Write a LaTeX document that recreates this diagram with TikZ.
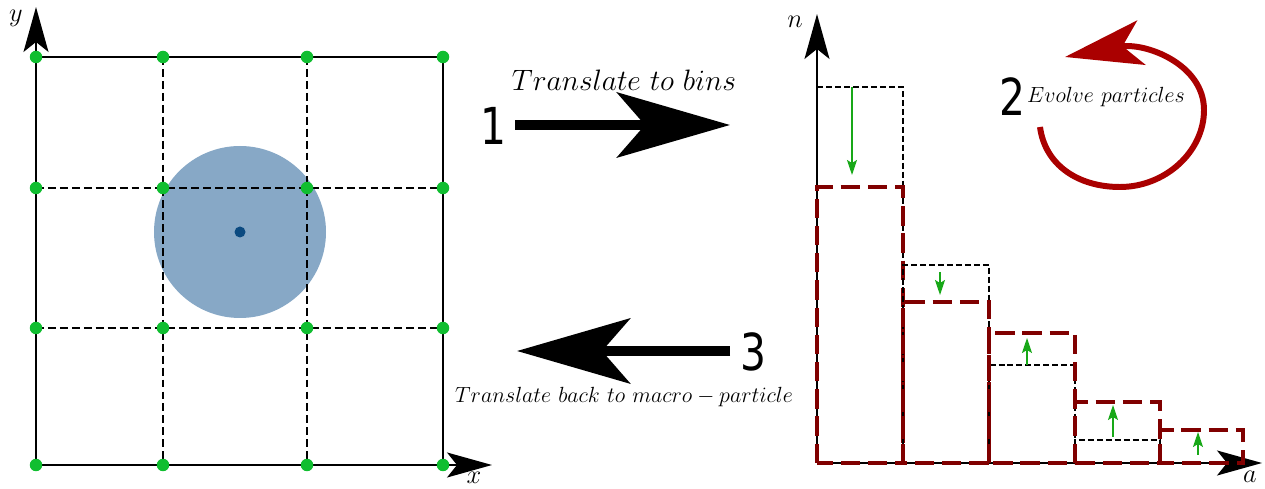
\RequirePackage{fix-cm}
\documentclass[tikz,border=0pt]{standalone}
\usepackage{fontspec}
\newfontfamily\numfont[FakeStretch=0.8]{DejaVu Sans}
\usetikzlibrary{arrows.meta}
\definecolor{gridgreen}{HTML}{10BE30}
\definecolor{blob}{HTML}{87A8C6}
\definecolor{core}{HTML}{0B4A80}
\definecolor{newbin}{HTML}{800000}
\definecolor{loopred}{HTML}{AA0000}
\definecolor{shift}{HTML}{18A818}
\tikzset{
  ax/.style={draw=black,line width=1pt,-{Stealth[length=0.9cm,width=0.5cm,inset=0.2cm]}},
  frame/.style={draw=black,line width=1pt},
  cell/.style={draw=black,line width=0.9pt,dash pattern=on 4.5pt off 2.3pt},
  gdot/.style={circle,fill=gridgreen,inner sep=0pt,minimum size=0.25cm},
  pdot/.style={circle,fill=core,inner sep=0pt,minimum size=0.22cm},
  bigarr/.style={draw=black,line width=5.7pt,-{Stealth[length=2.26cm,width=1.3cm,inset=0.56cm]}},
  looparr/.style={draw=loopred,line width=3.4pt,-{Stealth[length=1.55cm,width=0.9cm,inset=0.38cm]}},
  oldbin/.style={draw=black,line width=0.75pt,dash pattern=on 3.4pt off 1.7pt},
  newbin/.style={draw=newbin,line width=2.4pt,dash pattern=on 11pt off 4.5pt},
  shiftarr/.style={draw=shift,line width=0.9pt,-{Stealth[length=0.3cm,width=0.2cm,inset=0.06cm]}},
  num/.style={font=\numfont\fontsize{29}{32}\selectfont,inner sep=0pt},
  stepcap/.style={font=\fontsize{16.8}{19}\selectfont,inner sep=0pt},
  stepcapsm/.style={font=\fontsize{12.5}{15}\selectfont,inner sep=0pt},
  axlab/.style={font=\fontsize{15}{17}\selectfont,inner sep=0pt},
}
\begin{document}
\begin{tikzpicture}[x=0.02cm,y=-0.02cm]
\useasboundingbox (0,0) rectangle (1265,489);
% macro-particle on the grid
\fill[blob] (240,232) circle[radius=86];
\foreach \i/\px in {1/36,2/163,3/307,4/443}
  \foreach \j/\py in {1/57,2/188,3/328,4/465}
    \coordinate (g\i\j) at (\px,\py);
\draw[frame] (g11) rectangle (g44);
\foreach \i in {2,3} \draw[cell] (g\i1) -- (g\i4);
\foreach \j in {2,3} \draw[cell] (g1\j) -- (g4\j);
\coordinate (ytip) at (36,7);
\coordinate (xtip) at (492,465);
\draw[ax] (g14) -- (ytip);
\draw[ax] (g14) -- (xtip);
\node[axlab] (ylab) at (16,18) {$y$};
\node[axlab] (xlab) at (474,478) {$x$};
\foreach \i in {1,...,4}
  \foreach \j in {1,...,4}
    \node[gdot] (d\i\j) at (g\i\j) {};
\node[pdot] (centre) at (240,232) {};

% step 1
\node[num] (one) at (493,126) {1};
\coordinate (s1) at (515,125);
\coordinate (t1) at (730,125);
\draw[bigarr] (s1) -- (t1);
\node[stepcap] (tobins) at (624,80) {$Translate\ to\ bins$};

% step 3
\node[num] (three) at (753,352) {3};
\coordinate (s3) at (730,351);
\coordinate (t3) at (517,351);
\draw[bigarr] (s3) -- (t3);
\node[stepcapsm] (toback) at (624,397) {$Translate\ back\ to\ macro-particle$};

% histogram
\coordinate (o) at (817,463);
\coordinate (ntip) at (817,14);
\coordinate (atip) at (1262,463);
\draw[ax] (o) -- (ntip);
\draw[ax] (o) -- (atip);
\node[axlab] (nlab) at (795,22) {$n$};
\node[axlab] (alab) at (1250,477) {$a$};
\foreach \l/\r/\old/\new/\mx/\from/\to [count=\k] in
  {817/903/87/187/852/87/175, 903/989/265/302/940/272/295,
   989/1075/365/333/1027/365/338, 1075/1160/440/402/1113/437/405,
   1160/1243/463/430/1198/455/432} {
  \draw[oldbin] (\l,463) rectangle (\r,\old);
  \draw[newbin] (\l,463) rectangle (\r,\new);
  \coordinate (f\k) at (\mx,\from);
  \coordinate (h\k) at (\mx,\to);
  \draw[shiftarr] (f\k) -- (h\k);
}

% step 2
\node[num] (two) at (1012,97) {2};
\node[stepcapsm] (evolve) at (1106,97) {$Evolve\ particles$};
\coordinate (lp0) at (1040,127);
\coordinate (lp1) at (1120,187);
\coordinate (lp2) at (1204,110);
\coordinate (lptip) at (1065,57);
\draw[looparr] (lp0) .. controls (1045,165) and (1078,187) .. (lp1)
  .. controls (1165,187) and (1204,152) .. (lp2)
  .. controls (1204,64) and (1145,42) .. (lptip);
\end{tikzpicture}
\end{document}
